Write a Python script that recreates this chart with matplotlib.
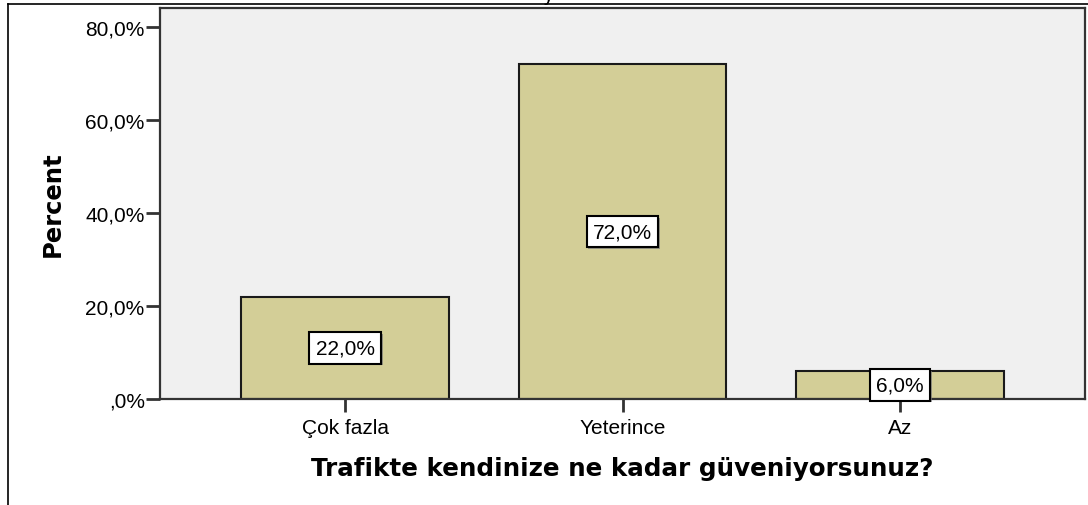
import numpy as np
import matplotlib
matplotlib.use("Agg")
import matplotlib.pyplot as plt
import matplotlib.patheffects as pe
from matplotlib.lines import Line2D

# Veriler
categories = ["Çok fazla", "Yeterince", "Az"]
percents = [22.0, 72.0, 6.0]
y_ticks = [0, 20, 40, 60, 80]
y_tick_labels = [",0%", "20,0%", "40,0%", "60,0%", "80,0%"]
x_title = "Trafikte kendinize ne kadar güveniyorsunuz?"
y_title = "Percent"

fig = plt.figure(figsize=(10.88, 5.06), dpi=100)
ax = fig.add_axes([160 / 1088, 1 - 400 / 506, (1085 - 160) / 1088, (400 - 9) / 506])

ax.set_facecolor("#F0F0F0")
x = np.arange(len(categories))
ax.bar(x, percents, width=0.75, color="#D3CE97", edgecolor="#1a1a1a", linewidth=1.5, zorder=2)

# Etiketler (kutucuk içinde, barın ortasında)
for xi, p in zip(x, percents):
    t = ax.text(xi, p / 2, f"{p:.1f}%".replace(".", ","), ha="center", va="center",
                family="Liberation Sans", fontsize=15, zorder=3,
                bbox=dict(boxstyle="square,pad=0.3", facecolor="white", edgecolor="black", linewidth=1.5))
    t.get_bbox_patch().set_path_effects([
        pe.SimplePatchShadow(offset=(1.2, -1.2), shadow_rgbFace="#777777", alpha=0.7), pe.Normal()])

ax.set_xlim(-0.668, 2.668)
ax.set_ylim(0, 84.1)
ax.set_yticks(y_ticks)
ax.set_yticklabels(y_tick_labels, family="Liberation Sans", fontsize=15)
ax.set_xticks(x)
ax.set_xticklabels(categories, family="Liberation Sans", fontsize=15)
ax.tick_params(axis="y", direction="out", length=10, width=2, color="#333333", pad=1)
ax.tick_params(axis="x", direction="out", length=9.5, width=2, color="#333333", pad=4)

for s in ax.spines.values():
    s.set_linewidth(1.6)
    s.set_color("#333333")

ax.set_xlabel(x_title, family="DejaVu Sans", fontweight="bold", fontsize=17.7, labelpad=14)
ax.set_ylabel(y_title, family="DejaVu Sans", fontweight="bold", fontsize=17.5, labelpad=15)

# dış çerçeve
fig.add_artist(Line2D([8 / 1088, 1], [1 - 4.5 / 506, 1 - 4.5 / 506], color="black", linewidth=1.2))
fig.add_artist(Line2D([8 / 1088, 8 / 1088], [0, 1 - 4.5 / 506], color="black", linewidth=1.2))

# kesilmiş başlık
fig.text(548 / 1088, 1 - 1 / 506, "y", ha="center", va="baseline", fontsize=14)

fig.savefig("out.png", dpi=100)
